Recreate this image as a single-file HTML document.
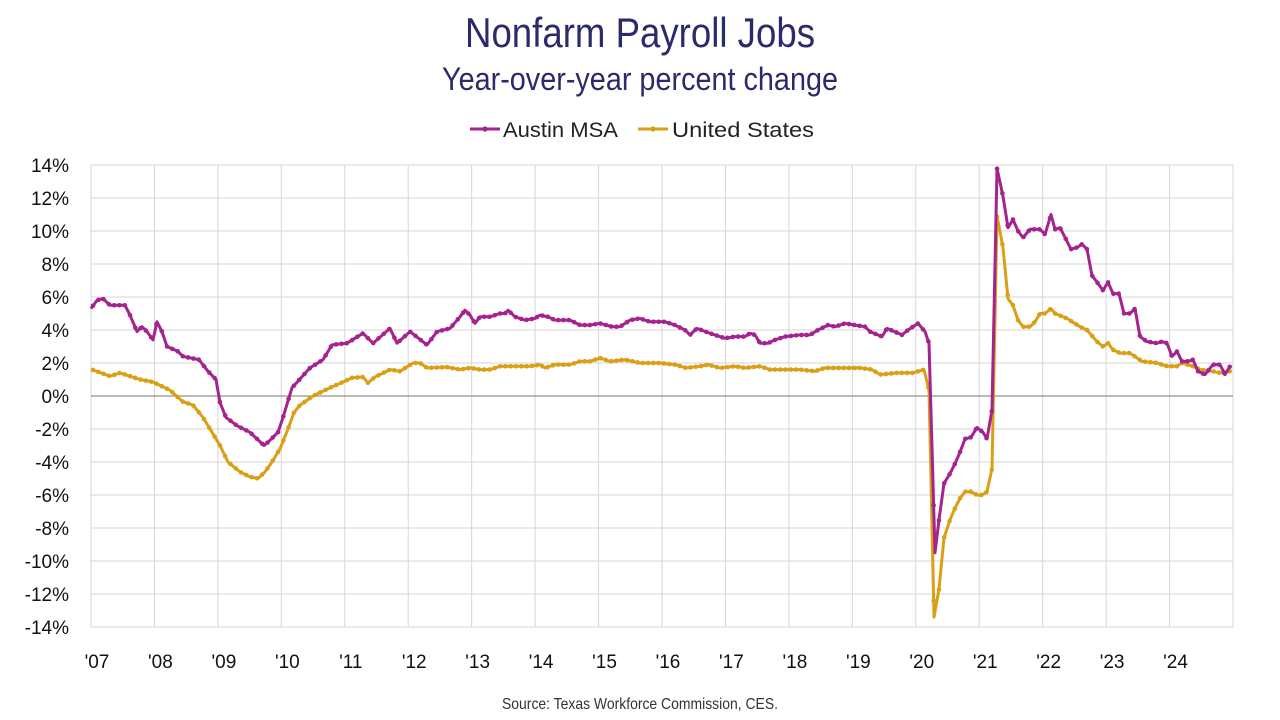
<!DOCTYPE html>
<html><head><meta charset="utf-8"><style>
html,body{margin:0;padding:0;background:#fff;width:1280px;height:720px;overflow:hidden}
svg text{font-family:"Liberation Sans",sans-serif}
</style></head><body>
<svg id="s" width="1280" height="720" xmlns="http://www.w3.org/2000/svg">
<text x="640" y="47" text-anchor="middle" font-size="42" fill="#2b2a6b" textLength="350" lengthAdjust="spacingAndGlyphs">Nonfarm Payroll Jobs</text>
<text x="640" y="90" text-anchor="middle" font-size="32" fill="#2b2a6b" textLength="396" lengthAdjust="spacingAndGlyphs">Year-over-year percent change</text>
<line x1="470" y1="129" x2="500" y2="129" stroke="#a4238e" stroke-width="3"/><circle cx="485" cy="129" r="2.6" fill="#a4238e"/>
<text x="503" y="137" font-size="21" fill="#222" textLength="115" lengthAdjust="spacingAndGlyphs">Austin MSA</text>
<line x1="638" y1="129" x2="668" y2="129" stroke="#d9a016" stroke-width="3"/><circle cx="653" cy="129" r="2.6" fill="#d9a016"/>
<text x="672" y="137" font-size="21" fill="#222" textLength="142" lengthAdjust="spacingAndGlyphs">United States</text>
<g id="grid"></g>
<g id="series"></g>
<text x="640" y="709" text-anchor="middle" font-size="16" fill="#333" textLength="276" lengthAdjust="spacingAndGlyphs">Source: Texas Workforce Commission, CES.</text>
</svg>
<script>
var NS="http://www.w3.org/2000/svg",g=document.getElementById('grid'),S=document.getElementById('series');
function el(t,a,p){var e=document.createElementNS(NS,t);for(var k in a)e.setAttribute(k,a[k]);(p||g).appendChild(e);return e;}
var L=91,R=1233,T=165,Z=396,u=16.5;
for(var v=14;v>=-14;v-=2){var y=Z-v*u;if(v!=0)el('line',{x1:L,x2:R,y1:y,y2:y,stroke:'#d6d6d6','stroke-width':1});
var t=el('text',{x:69,y:y+7,'text-anchor':'end','font-size':19,fill:'#111'});t.textContent=v+'%';}
for(var k=0;k<=18;k++){var x=L+k*(R-L)/18;el('line',{x1:x,x2:x,y1:T,y2:Z+14*u,stroke:'#d6d6d6','stroke-width':1});
if(k<18){var t=el('text',{x:x+6,y:668,'text-anchor':'middle','font-size':19,fill:'#111'});t.textContent="'"+String(7+k).padStart(2,'0');}}
el('line',{x1:L,x2:R,y1:Z,y2:Z,stroke:'#777','stroke-width':1});
var A=[[91,5.3],[97,5.8],[103,5.9],[110,5.5],[125,5.5],[130,4.9],[137,3.9],[142,4.2],[147,3.9],[153,3.4],[157,4.5],[162,3.9],[167,3.0],[178,2.7],[183,2.4],[199,2.2],[208,1.5],[216,1.0],[220,-0.4],[226,-1.3],[237,-1.8],[250,-2.2],[264,-3.0],[268,-2.8],[278,-2.2],[283,-1.3],[292,0.5],[310,1.7],[323,2.2],[332,3.1],[347,3.2],[363,3.8],[373,3.2],[390,4.1],[397,3.2],[410,3.9],[427,3.1],[437,3.9],[450,4.1],[460,4.8],[465,5.2],[470,4.9],[475,4.4],[480,4.8],[490,4.8],[500,5.0],[505,5.0],[508,5.2],[515,4.8],[525,4.6],[535,4.7],[540,4.9],[548,4.8],[555,4.6],[570,4.6],[580,4.3],[590,4.3],[600,4.4],[612,4.2],[620,4.2],[630,4.6],[640,4.7],[650,4.5],[665,4.5],[675,4.3],[685,4.0],[690,3.7],[697,4.1],[710,3.8],[725,3.5],[735,3.6],[745,3.6],[750,3.8],[755,3.7],[760,3.2],[768,3.2],[775,3.4],[785,3.6],[800,3.7],[810,3.7],[818,4.0],[828,4.3],[835,4.2],[845,4.4],[855,4.3],[865,4.2],[870,3.9],[882,3.6],[887,4.1],[902,3.7],[908,4.0],[918,4.4],[925,3.9],[929,3.2],[935,-9.5],[939,-7.5],[944,-5.3],[950,-4.7],[955,-4.1],[960,-3.4],[965,-2.6],[971,-2.5],[977,-1.9],[983,-2.2],[987,-2.6],[992,-0.85],[997,13.8],[1003,12.1],[1008,10.2],[1013,10.7],[1018,10.0],[1023,9.6],[1030,10.1],[1040,10.1],[1045,9.8],[1051,11.0],[1055,10.1],[1060,10.2],[1066,9.5],[1071,8.9],[1077,9.0],[1082,9.2],[1087,8.9],[1092,7.3],[1097,6.9],[1103,6.4],[1108,6.9],[1113,6.2],[1119,6.2],[1124,5.0],[1130,5.0],[1135,5.3],[1140,3.6],[1147,3.3],[1157,3.2],[1162,3.3],[1167,3.2],[1172,2.4],[1177,2.7],[1182,2.1],[1188,2.1],[1193,2.2],[1198,1.5],[1205,1.3],[1213,1.9],[1220,1.9],[1225,1.3],[1230,1.8]];
var U=[[92,1.6],[110,1.2],[120,1.4],[140,1.0],[153,0.85],[170,0.35],[183,-0.35],[193,-0.55],[203,-1.3],[212,-2.2],[220,-3.0],[228,-4.0],[240,-4.6],[250,-4.9],[258,-5.0],[265,-4.6],[272,-4.0],[280,-3.2],[288,-2.0],[294,-1.0],[300,-0.55],[313,0],[330,0.5],[343,0.85],[352,1.1],[363,1.15],[368,0.8],[375,1.15],[390,1.6],[400,1.5],[413,2.0],[420,2.0],[427,1.7],[447,1.75],[460,1.6],[470,1.7],[480,1.6],[490,1.6],[500,1.8],[515,1.8],[530,1.8],[540,1.9],[545,1.7],[555,1.9],[570,1.9],[580,2.1],[590,2.1],[600,2.3],[610,2.1],[625,2.2],[640,2.0],[660,2.0],[675,1.9],[686,1.7],[700,1.8],[708,1.9],[720,1.7],[735,1.8],[745,1.7],[760,1.8],[770,1.6],[785,1.6],[800,1.6],[815,1.5],[825,1.7],[840,1.7],[860,1.7],[872,1.6],[880,1.3],[897,1.4],[913,1.4],[924,1.6],[929,0.35],[934,-13.4],[939,-11.7],[944,-8.6],[950,-7.5],[955,-6.8],[960,-6.2],[965,-5.8],[971,-5.8],[977,-6.0],[982,-6.0],[987,-5.8],[992,-4.4],[997,10.9],[1003,9.0],[1008,5.9],[1013,5.5],[1018,4.6],[1023,4.2],[1030,4.2],[1035,4.5],[1040,5.0],[1045,5.0],[1051,5.3],[1055,5.0],[1067,4.7],[1080,4.2],[1087,4.0],[1097,3.3],[1103,3.0],[1108,3.2],[1113,2.8],[1120,2.6],[1130,2.6],[1142,2.1],[1157,2.0],[1167,1.8],[1177,1.8],[1182,2.0],[1193,1.8],[1200,1.6],[1213,1.5],[1220,1.4],[1230,1.5]];
function draw(D,c){var p=D.map(function(d){return d[0]+','+(Z-d[1]*u).toFixed(1)}).join(' ');
el('polyline',{points:p,fill:'none',stroke:c,'stroke-width':3,'stroke-linejoin':'round'},S);
for(var m=0;m<216;m++){var x=L+m*(R-L)/216+2;if(x<D[0][0]||x>D[D.length-1][0])continue;
for(var i=1;i<D.length&&D[i][0]<x;i++);var a=D[i-1],b=D[i]||a,f=b[0]==a[0]?0:(x-a[0])/(b[0]-a[0]);
el('circle',{cx:x,cy:Z-(a[1]+f*(b[1]-a[1]))*u,r:2.3,fill:c},S);}}
draw(U,'#d9a016');draw(A,'#a4238e');
</script>
</body></html>
